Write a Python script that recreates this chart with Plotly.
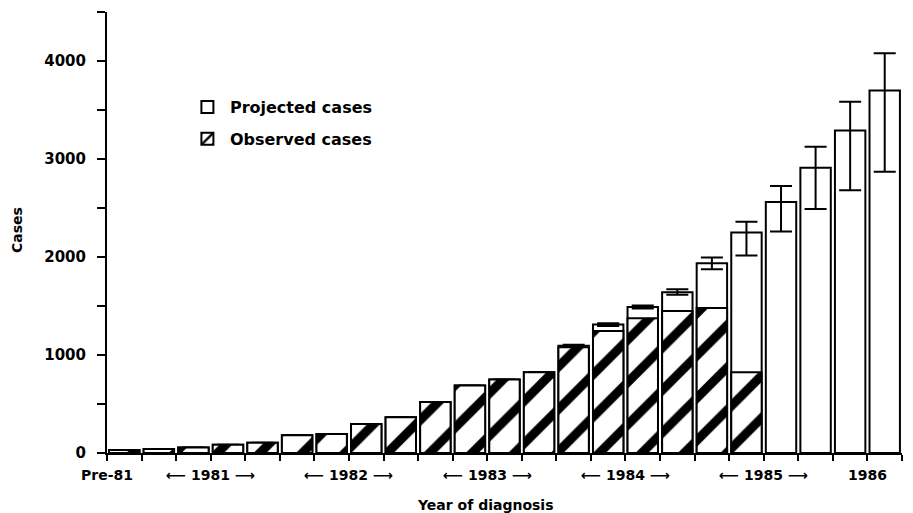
import plotly.graph_objects as go

# ---- data ----
periods = ["Pre-81",
           "1981 Q1", "1981 Q2", "1981 Q3", "1981 Q4",
           "1982 Q1", "1982 Q2", "1982 Q3", "1982 Q4",
           "1983 Q1", "1983 Q2", "1983 Q3", "1983 Q4",
           "1984 Q1", "1984 Q2", "1984 Q3", "1984 Q4",
           "1985 Q1", "1985 Q2", "1985 Q3", "1985 Q4",
           "1986 Q1", "1986 Q2"]
projected = [30, 40, 55, 85, 105, 180, 195, 295, 365, 520, 690, 750, 825,
             1095, 1310, 1490, 1640, 1935, 2250, 2560, 2910, 3290, 3700]
observed = [30, 40, 55, 85, 105, 180, 195, 295, 365, 520, 690, 750, 825,
            1080, 1245, 1375, 1450, 1480, 825, 0, 0, 0, 0]
err_plus = [None] * 13 + [10, 15, 15, 30, 60, 110, 165, 215, 295, 380]
err_minus = [None] * 13 + [10, 15, 15, 25, 60, 235, 300, 420, 610, 830]
year_labels = ["Pre-81", "\u27f5 1981 \u27f6", "\u27f5 1982 \u27f6", "\u27f5 1983 \u27f6",
               "\u27f5 1984 \u27f6", "\u27f5 1985 \u27f6", "1986"]
year_keys = ["Pre", "1981", "1982", "1983", "1984", "1985", "1986"]
ytick_vals = [0, 500, 1000, 1500, 2000, 2500, 3000, 3500, 4000, 4500]
ytick_text = ["0", "", "1000", "", "2000", "", "3000", "", "4000", ""]

FONT = "DejaVu Sans, Liberation Sans, sans-serif"

def bfont(size):
    return dict(family=FONT, size=size, color="black", weight="bold")

fig = go.Figure()
fig.add_trace(go.Bar(
    x=periods, y=projected, name="Projected cases", legendgroup="p",
    marker=dict(color="white", line=dict(color="black", width=2)),
    error_y=dict(type="data", symmetric=False, array=err_plus, arrayminus=err_minus,
                 color="black", thickness=2, width=11),
))
fig.add_trace(go.Bar(
    x=periods, y=observed, name="Observed cases", legendgroup="o",
    marker=dict(color="white", line=dict(color="black", width=2),
                pattern=dict(shape="/", size=30, solidity=0.3, fgopacity=1,
                             fgcolor="black", bgcolor="white", fillmode="overlay")),
))

# year group labels under the axis
for key, lab in zip(year_keys, year_labels):
    idx = [i for i, p in enumerate(periods) if p.startswith(key)]
    if key == "Pre":
        cx = idx[0] - 0.5
    else:
        cx = (idx[0] + idx[-1]) / 2
    fig.add_annotation(x=cx, y=0, xref="x", yref="paper", yshift=-22,
                       text=lab, showarrow=False, font=bfont(14),
                       xanchor="center", yanchor="middle")

fig.add_annotation(x=(485 - 107) / 795, y=0, xref="paper", yref="paper", yshift=-52,
                   text="Year of diagnosis", showarrow=False, font=bfont(14),
                   xanchor="center", yanchor="middle")
fig.add_annotation(x=0, y=(453 - 230) / 441, xref="paper", yref="paper", xshift=-90,
                   text="Cases", textangle=-90, showarrow=False, font=bfont(14),
                   xanchor="center", yanchor="middle")

fig.update_layout(
    width=905, height=505,
    margin=dict(l=99, r=11, t=4, b=60, autoexpand=False),
    paper_bgcolor="white", plot_bgcolor="white",
    barmode="overlay", bargap=0.12,
    font=bfont(14),
    showlegend=True,
    legend=dict(x=0.098, y=0.823, xanchor="left", yanchor="top",
                bgcolor="rgba(0,0,0,0)", font=bfont(16),
                traceorder="grouped", itemwidth=35, tracegroupgap=8),
    xaxis=dict(type="category", categoryorder="array", categoryarray=periods,
               tickson="boundaries", ticks="outside", ticklen=6, tickwidth=2,
               tickcolor="black", showticklabels=False, showline=True,
               linecolor="black", linewidth=2, showgrid=False, zeroline=False,
               range=[-0.5, len(periods) - 0.5]),
    yaxis=dict(range=[0, 4500], tickvals=ytick_vals, ticktext=ytick_text,
               ticks="outside", ticklen=8, tickwidth=2, tickcolor="black",
               ticklabelstandoff=8,
               showline=True, linecolor="black", linewidth=2, showgrid=False,
               zeroline=False, tickfont=bfont(15)),
)

fig.write_html("out.html")
